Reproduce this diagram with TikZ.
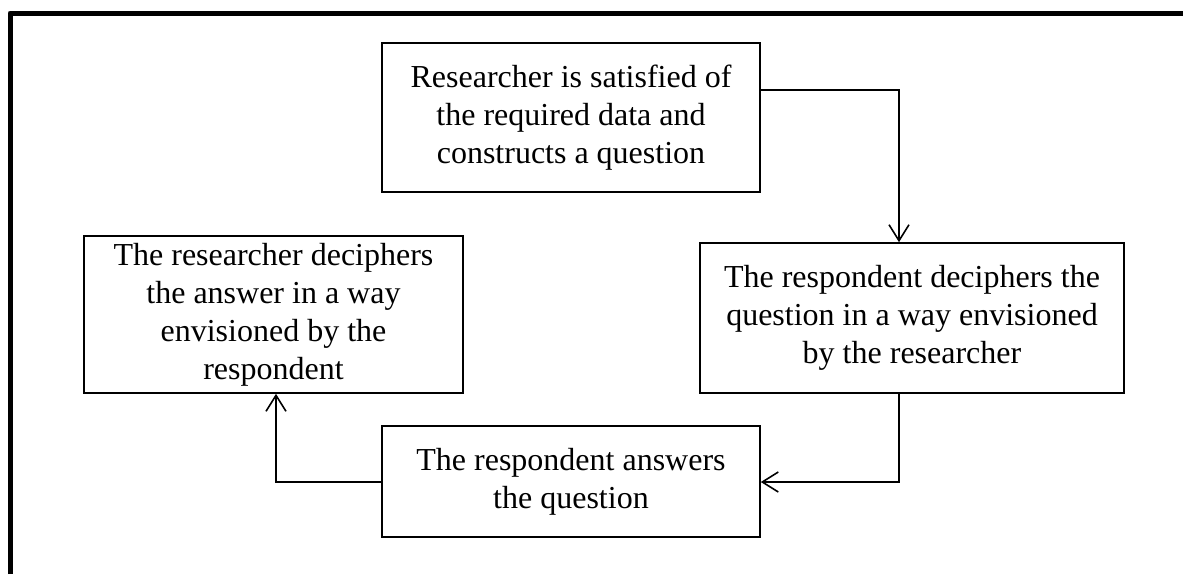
\documentclass[tikz,border=0pt]{standalone}
\usepackage{fontspec}
\setmainfont{Liberation Serif}
\usetikzlibrary{arrows.meta}
\usetikzlibrary{positioning}

\begin{document}
\begin{tikzpicture}[x=0.5pt, y=-0.5pt,
	stage/.style={draw, line width=0.8pt, align=center, inner sep=0pt, font=\fontsize{16pt}{19pt}\selectfont},
	flow/.style={line width=0.9pt, -{Straight Barb[length=8pt, width=10pt, line width=0.8pt]}}]
	\useasboundingbox (0,0) rectangle (1183,574);
	
	% outer frame
	\draw[line width=2.5pt, line join=round] (10,574) -- (10,13) -- (1183,13);
	
	% boxes
	\node[stage, minimum width=189pt, minimum height=74.5pt] (ask) at (571,117.5) {Researcher is satisfied of\\the required data and\\constructs a question};
	\node[stage, minimum width=212pt, minimum height=75pt] (decode) at (912,318) {The respondent deciphers the\\question in a way envisioned\\by the researcher};
	\node[stage, minimum width=189pt, minimum height=55.5pt] (answer) at (571,481.5) {The respondent answers\\the question};
	\node[stage, minimum width=189.5pt, minimum height=78.5pt] (read) at (273.5,314.5) {The researcher deciphers\\the answer in a way\\envisioned by the\\respondent};
	
	% connectors
	\coordinate (ab) at (899,90);
	\coordinate (bc) at (899,482);
	\coordinate (cd) at (276,482);
	\draw[flow] (ask.east |- ab) -- (ab) -- (decode.north -| ab);
	\draw[flow] (decode.south -| bc) -- (bc) -- (answer.east |- bc);
	\draw[flow] (answer.west |- cd) -- (cd) -- (read.south -| cd);
\end{tikzpicture}
\end{document}
